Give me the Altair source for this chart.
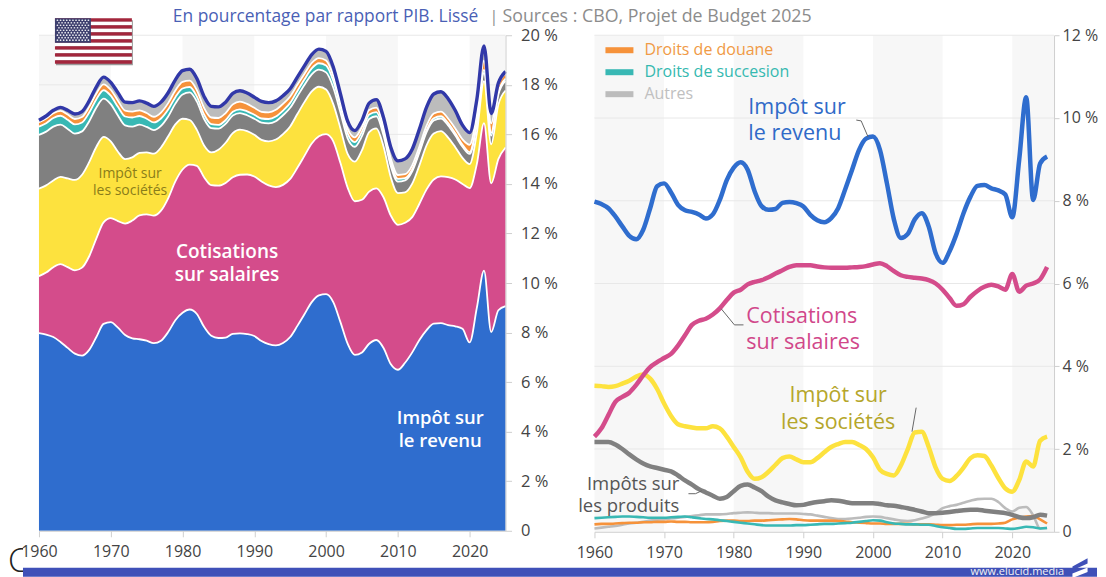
import altair as alt
import pandas as pd

years = list(range(1960, 2026))
revenu = [7.98,7.92,7.82,7.62,7.38,7.15,7.07,7.30,7.82,8.35,
          8.42,8.20,7.90,7.77,7.73,7.67,7.57,7.67,8.02,8.50,
          8.80,8.93,8.75,8.23,7.87,7.78,7.80,7.95,7.97,7.94,
          7.86,7.66,7.53,7.48,7.58,7.82,8.27,8.75,9.23,9.50,
          9.55,9.23,8.42,7.55,7.10,7.20,7.55,7.70,7.38,6.73,
          6.50,6.78,7.20,7.70,8.10,8.36,8.38,8.30,8.25,8.15,
          7.60,9.00,10.50,8.02,8.90,9.07]
cotisations = [2.30,2.50,2.82,3.14,3.26,3.36,3.55,3.78,3.98,4.10,
               4.20,4.30,4.50,4.75,5.00,5.10,5.15,5.25,5.40,5.60,
               5.78,5.85,5.98,6.04,6.08,6.15,6.24,6.32,6.40,6.44,
               6.44,6.44,6.41,6.39,6.38,6.38,6.38,6.39,6.40,6.42,
               6.46,6.49,6.42,6.30,6.20,6.16,6.14,6.12,6.08,6.00,
               5.85,5.65,5.46,5.50,5.68,5.82,5.92,5.97,5.93,5.85,
               6.23,5.80,5.95,6.00,6.10,6.40]
societes = [3.53,3.52,3.50,3.52,3.58,3.65,3.75,3.80,3.70,3.45,
            3.10,2.80,2.60,2.55,2.52,2.50,2.50,2.55,2.50,2.30,
            2.05,1.80,1.45,1.28,1.32,1.45,1.62,1.78,1.82,1.75,
            1.68,1.68,1.78,1.92,2.05,2.12,2.17,2.17,2.10,2.00,
            1.80,1.50,1.40,1.36,1.60,2.00,2.40,2.42,2.05,1.55,
            1.28,1.23,1.35,1.55,1.78,1.85,1.83,1.60,1.30,1.05,
            0.97,1.25,1.70,1.58,2.20,2.30]
produits = [2.17,2.17,2.17,2.11,2.00,1.87,1.75,1.65,1.58,1.54,
            1.50,1.46,1.36,1.24,1.14,1.03,0.95,0.87,0.80,0.84,
            0.98,1.11,1.14,1.07,0.98,0.85,0.76,0.71,0.67,0.64,
            0.65,0.69,0.72,0.74,0.76,0.75,0.72,0.69,0.69,0.69,
            0.69,0.67,0.64,0.63,0.60,0.57,0.53,0.49,0.45,0.45,
            0.46,0.48,0.50,0.52,0.53,0.53,0.51,0.49,0.47,0.45,
            0.41,0.35,0.33,0.35,0.41,0.39]
succession = [.33,.34,.35,.36,.37,.37,.36,.35,.34,.34,
              .34,.35,.36,.37,.35,.33,.31,.30,.28,.26,
              .24,.22,.20,.18,.16,.15,.15,.15,.15,.16,
              .16,.17,.18,.19,.19,.20,.21,.22,.24,.26,
              .28,.27,.23,.20,.19,.18,.18,.17,.17,.14,
              .11,.09,.07,.07,.08,.09,.09,.09,.09,.08,
              .07,.09,.12,.11,.08,.09]
douane = [.18,.19,.19,.20,.21,.22,.22,.23,.23,.24,
          .24,.25,.24,.24,.23,.23,.23,.24,.26,.27,
          .27,.26,.26,.27,.27,.28,.29,.30,.31,.30,
          .28,.27,.27,.27,.27,.26,.25,.23,.22,.21,
          .20,.20,.19,.19,.19,.19,.18,.18,.18,.17,
          .16,.16,.17,.17,.18,.19,.19,.19,.20,.22,
          .30,.34,.37,.38,.30,.20]
autres = [.08,.10,.12,.14,.17,.20,.22,.24,.27,.29,
          .30,.32,.34,.36,.38,.40,.42,.42,.42,.43,
          .45,.46,.47,.46,.45,.45,.44,.44,.44,.44,
          .43,.42,.39,.36,.33,.31,.31,.32,.34,.36,
          .37,.36,.33,.30,.27,.26,.28,.32,.37,.45,
          .57,.62,.65,.70,.75,.79,.80,.80,.72,.57,
          .49,.58,.60,.40,.08,.09]

names = ["Impôt sur le revenu", "Cotisations sur salaires", "Impôt sur les sociétés",
         "Impôts sur les produits", "Droits de succession", "Droits de douane", "Autres"]
colors = ["#2f6dce", "#d44c8b", "#fde23e", "#808080", "#38b8b4", "#f6923a", "#bcbcbc"]
series = [revenu, cotisations, societes, produits, succession, douane, autres]

df = pd.DataFrame([
    {"year": y, "serie": n, "rank": i, "value": v}
    for i, (n, s) in enumerate(zip(names, series))
    for y, v in zip(years, s)
])

FONT = "Open Sans"
color_scale = alt.Scale(domain=names, range=colors)
band_starts = [1960, 1980, 2000, 2020]
band_ends_left = [1970, 1990, 2010, 2025]
band_ends_right = [1970, 1990, 2010, 2026]
x_ticks = [1960, 1970, 1980, 1990, 2000, 2010, 2020]
PX = dict(x=alt.X("x:Q", scale=None, axis=None), x2="x2:Q", y=alt.Y("y:Q", scale=None, axis=None), y2="y2:Q")


def X0(dom):
    return alt.X("year:Q", scale=alt.Scale(domain=dom, nice=False), axis=None)


def Y0(dom, field="v:Q"):
    return alt.Y(field, scale=alt.Scale(domain=dom, nice=False), axis=None)


def axes(xdom, ydom, yticks, size, pad, tick):
    x = alt.X("year:Q", scale=alt.Scale(domain=xdom, nice=False), title=None,
              axis=alt.Axis(values=x_ticks, format="d", grid=False, labelFont=FONT, labelFontSize=16,
                            labelColor="#444444", labelPadding=7, tickColor="#cfcfcf", domainColor="#cfcfcf",
                            tickSize=6, labelFlush=False, zindex=1, labelOverlap=False))
    y = alt.Y("v:Q", scale=alt.Scale(domain=ydom, nice=False), title=None,
              axis=alt.Axis(orient="right", values=yticks, grid=False,
                            labelExpr="datum.value === 0 ? '0' : datum.value + ' %'", labelFont=FONT,
                            labelFontSize=size, labelColor="#444444", labelPadding=pad, tickColor="#cfcfcf",
                            domainColor="#cfcfcf", tickSize=tick, zindex=1, labelOverlap=False))
    return x, y


def bands(ends, xdom, ydom):
    d = pd.DataFrame({"a": band_starts, "b": ends, "y0": ydom[0], "y1": ydom[1]})
    return alt.Chart(d).mark_rect(color="#f7f7f7").encode(
        x=alt.X("a:Q", scale=alt.Scale(domain=xdom, nice=False), axis=None),
        x2="b:Q", y=Y0(ydom, "y0:Q"), y2="y1:Q")


def grid(ydom, ticks):
    return alt.Chart(pd.DataFrame({"v": ticks})).mark_rule(color="#e8e8e8", strokeWidth=1).encode(y=Y0(ydom))


def labels(rows, xdom, ydom, size, color, align="center", weight=500):
    d = pd.DataFrame(rows, columns=["year", "v", "t"])
    return alt.Chart(d).mark_text(font=FONT, fontSize=size, color=color, align=align, baseline="middle",
                                  fontWeight=weight).encode(x=X0(xdom), y=Y0(ydom), text="t:N")


def pixel_text(t, x, y, size, color, align="left", weight=400):
    return alt.Chart(pd.DataFrame({"t": [t]})).mark_text(
        font=FONT, fontSize=size, color=color, align=align, baseline="middle", fontWeight=weight).encode(
        x=alt.value(x), y=alt.value(y), text="t:N")


# ---------- left panel ----------
LW, LH = 467, 496
xl, yl = [1960, 2025], [0, 20]
page = alt.Chart(pd.DataFrame({"x": [-31], "x2": [1059], "y": [-27], "y2": [542]})).mark_rect(color="white").encode(**PX)

xax, yax = axes(xl, yl, list(range(0, 21, 2)), 16.5, 9, 6)
stacked = alt.Chart(df).transform_stack(stack="value", groupby=["year"], sort=[{"field": "rank", "order": "ascending"}],
                                        as_=["v", "v1"])
area = stacked.mark_area(interpolate="monotone").encode(
    x=xax, y=yax, y2="v1:Q", color=alt.Color("serie:N", scale=color_scale, legend=None),
    order=alt.Order("rank:Q"))
whites = stacked.mark_line(interpolate="monotone", color="white", strokeWidth=1.8).encode(
    x=X0(xl), y=Y0(yl, "v1:Q"), detail="serie:N")
top = stacked.transform_filter("datum.serie === 'Autres'").mark_line(
    interpolate="monotone", color="#3138a8", strokeWidth=3.4).encode(x=X0(xl), y=Y0(yl, "v1:Q"))

# flag
flag_rows = [{"x": 17, "x2": 94, "y": -15, "y2": 30, "c": "#9a9a9a"}]
for i in range(13):
    flag_rows.append({"x": 16, "x2": 93, "y": -17 + i * 3.5, "y2": -17 + (i + 1) * 3.5,
                      "c": "#a3263c" if i % 2 == 0 else "#ffffff"})
flag_rows.append({"x": 16, "x2": 52, "y": -17, "y2": 7.5, "c": "#3d3f6e"})
flag_rect_layers = [
    alt.Chart(pd.DataFrame([r])).mark_rect(color=r["c"]).encode(**PX)
    for r in flag_rows
]
star_rows = [{"x": 18.5 + c * 3.1 + (1.5 if r % 2 else 0), "y": -15 + r * 2.5}
             for r in range(9) for c in range(11 if r % 2 == 0 else 10)]
stars = alt.Chart(pd.DataFrame(star_rows)).mark_circle(color="#e8e8ee", size=3, opacity=1).encode(
    x=alt.X("x:Q", scale=None, axis=None), y=alt.Y("y:Q", scale=None, axis=None))

corner_c = pixel_text("C", -31, 527, 33, "#222222", weight=300)
c_cover = alt.Chart(pd.DataFrame({"x": [-16], "x2": [40], "y": [505], "y2": [533]})).mark_rect(color="white").encode(**PX)
footer_band = alt.Chart(pd.DataFrame({"x": [-16], "x2": [1059], "y": [533], "y2": [542]})).mark_rect(color="#3f50b8").encode(**PX)

left = alt.layer(
    page,
    bands(band_ends_left, xl, yl),
    grid(yl, list(range(2, 21, 2))),
    area, whites, top,
    labels([[2015.9, 4.56, "Impôt sur"], [2015.9, 3.63, "le revenu"]], xl, yl, 18.5, "white", weight=600),
    labels([[1986.2, 11.25, "Cotisations"], [1986.2, 10.32, "sur salaires"]], xl, yl, 19, "white", weight=600),
    labels([[1972.7, 14.4, "Impôt sur"], [1972.7, 13.7, "les sociétés"]], xl, yl, 14, "#8a7d1a"),
    *flag_rect_layers, stars,
    pixel_text("En pourcentage par rapport PIB. Lissé", 134, -18, 17.4, "#4a5fb5"),
    pixel_text("|", 451, -18, 16, "#8c8c8c"),
    pixel_text("Sources : CBO, Projet de Budget 2025", 464, -18, 17.8, "#8c8c8c"),
    corner_c, c_cover, footer_band,
).resolve_axis(x="independent", y="independent").properties(width=LW, height=LH)

# ---------- right panel ----------
RW, RH = 460, 497
xr, yr = [1960, 2026], [0, 12]
xax2, yax2 = axes(xr, yr, list(range(0, 13, 2)), 16, 3, 5)
base = alt.Chart(df.rename(columns={"value": "v"}))
widths = {names[0]: 4.5, names[1]: 4.5, names[2]: 4.5, names[3]: 4.5,
          names[4]: 2.6, names[5]: 2.6, names[6]: 2.6}
line_layers = []
for i in [6, 5, 4, 3, 2, 1, 0]:
    n = names[i]
    line_layers.append(
        base.transform_filter(alt.datum.serie == n).mark_line(
            interpolate="monotone", color=colors[i], strokeWidth=widths[n]).encode(
            x=xax2 if i == 6 else X0(xr), y=yax2 if i == 6 else Y0(yr))
    )

leaders = pd.DataFrame([
    [0, 1997.6, 9.95], [0, 1998.3, 9.93], [0, 1999.3, 9.54],
    [1, 1978.2, 5.39], [1, 1980.1, 5.00], [1, 1981.4, 5.00],
    [2, 2006.2, 3.00], [2, 2005.6, 2.42],
    [3, 1973.5, 0.92], [3, 1974.5, 0.92], [3, 1975.4, 0.99],
], columns=["id", "year", "v"])
leader_marks = alt.Chart(leaders).mark_line(color="#666666", strokeWidth=1).encode(
    x=X0(xr), y=Y0(yr), detail="id:N")

legend_names = ["Droits de douane", "Droits de succesion", "Autres"]
legend_colors = ["#f6923a", "#38b8b4", "#bcbcbc"]
legend_text_colors = ["#f09a45", "#35b9b0", "#c0c0c0"]
legend_layers = []
for i, (t, c, tc) in enumerate(zip(legend_names, legend_colors, legend_text_colors)):
    row = pd.DataFrame({"t": [t]})
    legend_layers.append(alt.Chart(row).mark_rule(color=c, strokeWidth=6).encode(
        x=alt.value(11), x2=alt.value(39), y=alt.value(15 + i * 22)))
    legend_layers.append(pixel_text(t, 50, 15 + i * 22, 16, tc, weight=500))

footer = pixel_text("www.elucid.media", 470, 537, 11, "#f2f2f2", align="right")
logo_a = alt.Chart(pd.DataFrame({"t": [1]})).mark_point(
    filled=True, opacity=1, color="#3f50b8", size=230,
    shape="M-1,0.1 L1,-1 L1,-0.3 L-1,0.6 Z").encode(x=alt.value(486), y=alt.value(531))
logo_b = alt.Chart(pd.DataFrame({"t": [1]})).mark_point(
    filled=True, opacity=1, color="white", size=230,
    shape="M-1,0.1 L1,-0.7 L1,-0.1 L-1,0.7 Z").encode(x=alt.value(486), y=alt.value(538))

right = alt.layer(
    bands(band_ends_right, xr, yr),
    grid(yr, list(range(2, 13, 2))),
    *line_layers,
    leader_marks,
    labels([[1982.1, 10.24, "Impôt sur"], [1982.1, 9.61, "le revenu"]], xr, yr, 21.5, "#2f6ac8", "left"),
    labels([[1981.8, 5.19, "Cotisations"], [1981.8, 4.57, "sur salaires"]], xr, yr, 21.5, "#d1478a", "left"),
    labels([[1995.0, 3.29, "Impôt sur"], [1995.0, 2.63, "les sociétés"]], xr, yr, 21.5, "#b5a62b"),
    labels([[1972.2, 1.16, "Impôts sur"], [1972.2, 0.63, "les produits"]], xr, yr, 18.5, "#555555", "right"),
    *legend_layers, footer, logo_a, logo_b,
).resolve_axis(x="independent", y="independent").properties(width=RW, height=RH)

chart = alt.hconcat(left, right, spacing=89, bounds="flush", padding=0, background="white").configure_view(stroke=None)
chart.save("out.html", embed_options={"renderer": "svg", "actions": False})
